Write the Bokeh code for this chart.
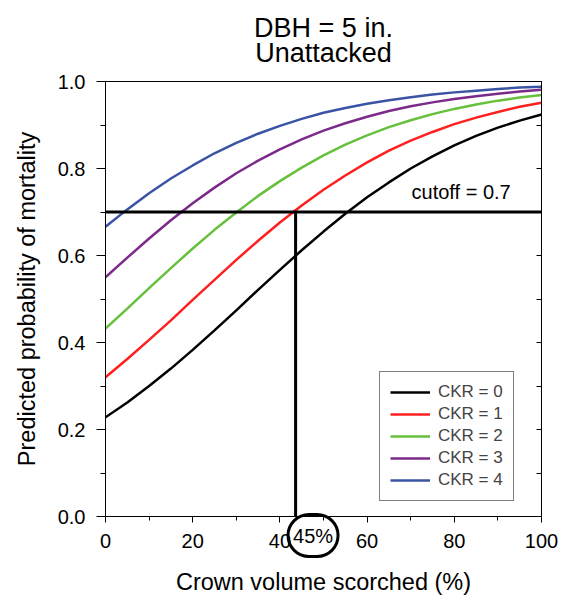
from bokeh.plotting import figure
from bokeh.embed import file_html
from bokeh.resources import INLINE
from bokeh.models import (Range1d, LinearAxis, SingleIntervalTicker, Span, Label,
                          Legend, LegendItem, PrintfTickFormatter)

# ---- data ----
crown_scorch = [0, 5, 10, 15, 20, 25, 30, 35, 40, 45, 50,
                55, 60, 65, 70, 75, 80, 85, 90, 95, 100]
ckr0 = [0.228, 0.262, 0.300, 0.340, 0.383, 0.428, 0.474, 0.521, 0.567, 0.612, 0.655,
        0.696, 0.734, 0.768, 0.800, 0.828, 0.853, 0.875, 0.894, 0.910, 0.924]
ckr1 = [0.320, 0.362, 0.406, 0.451, 0.498, 0.544, 0.590, 0.634, 0.676, 0.715, 0.751,
        0.784, 0.814, 0.841, 0.864, 0.884, 0.902, 0.917, 0.930, 0.942, 0.951]
ckr2 = [0.432, 0.478, 0.525, 0.571, 0.616, 0.659, 0.699, 0.737, 0.771, 0.802, 0.830,
        0.855, 0.876, 0.895, 0.911, 0.925, 0.937, 0.947, 0.956, 0.963, 0.969]
ckr3 = [0.550, 0.595, 0.639, 0.681, 0.720, 0.756, 0.789, 0.818, 0.844, 0.867, 0.887,
        0.904, 0.919, 0.932, 0.943, 0.952, 0.960, 0.966, 0.972, 0.977, 0.981]
ckr4 = [0.666, 0.706, 0.743, 0.777, 0.807, 0.835, 0.859, 0.880, 0.898, 0.914, 0.928,
        0.939, 0.949, 0.957, 0.964, 0.970, 0.975, 0.979, 0.983, 0.986, 0.988]
series_names = ["CKR = 0", "CKR = 1", "CKR = 2", "CKR = 3", "CKR = 4"]
series_values = [ckr0, ckr1, ckr2, ckr3, ckr4]
series_colors = ["#000000", "#ff1f1f", "#66c03c", "#7b2a8a", "#3b53a4"]

title_text = "DBH = 5 in.\nUnattacked"
x_title = "Crown volume scorched (%)"
y_title = "Predicted probability of mortality"
cutoff = 0.7
cutoff_text = "cutoff = 0.7"
cutoff_x = 43.6          # where the CKR = 1 curve crosses the cutoff
cutoff_x_text = "45%"

FONT = "Liberation Sans"

p = figure(width=564, height=600, output_backend="svg", toolbar_location=None,
           x_range=Range1d(0, 100), y_range=Range1d(0, 1),
           min_border_left=105, min_border_right=23, min_border_top=81, min_border_bottom=84)
p.background_fill_color = "white"
p.border_fill_color = "white"
p.outline_line_color = "black"
p.outline_line_width = 1
p.outline_line_alpha = 1
p.xgrid.visible = False
p.ygrid.visible = False

# Texts outside the frame are Labels held in side panels (so they are not clipped);
# they are positioned by data coordinates + pixel offsets.
x_title_lbl = Label(x=50, y=0, y_offset=-65, text=x_title, text_font=FONT,
                    text_font_size="23.5px", text_color="black", anchor="center")
p.add_layout(x_title_lbl, "above")

title_lbl = Label(x=50, y=1, y_offset=41, text=title_text, text_font=FONT,
                  text_font_size="27px", text_color="black", text_line_height=0.82,
                  anchor="center", text_align="center")
p.add_layout(title_lbl, "above")

# bottom axis (tick labels only)
xa = p.xaxis[0]
xa.ticker = SingleIntervalTicker(interval=20, num_minor_ticks=2)
xa.major_tick_out = 6
xa.major_tick_in = 0
xa.minor_tick_out = 4
xa.minor_tick_in = 0

# left axis
ya = p.yaxis[0]
ya.ticker = SingleIntervalTicker(interval=0.2, num_minor_ticks=2)
ya.formatter = PrintfTickFormatter(format="%.1f")
ya.axis_label = y_title
ya.major_tick_out = 9
ya.major_tick_in = 0
ya.minor_tick_out = 5
ya.minor_tick_in = 0

for ax in [xa, ya]:
    ax.axis_line_color = "black"
    ax.major_tick_line_color = "black"
    ax.minor_tick_line_color = "black"
    ax.major_label_text_font = FONT
    ax.major_label_text_font_size = "20px"
    ax.major_label_text_color = "black"
    ax.axis_label_text_font = FONT
    ax.axis_label_text_font_size = "23.5px"
    ax.axis_label_text_font_style = "normal"
    ax.axis_label_text_color = "black"
xa.major_label_standoff = 11
ya.major_label_standoff = 11
ya.axis_label_standoff = 15

# circled value just below the axis
circ = Label(x=47.6, y=0, y_offset=-19, text=cutoff_x_text, text_font=FONT,
             text_font_size="20px", text_color="black", anchor="center",
             border_line_color="black", border_line_width=3, border_radius=23,
             padding=dict(left=5, right=5, top=10, bottom=10))
p.add_layout(circ, "below")

# right axis: inward ticks only
ra = LinearAxis(ticker=SingleIntervalTicker(interval=0.1, num_minor_ticks=0))
ra.major_tick_in = 5
ra.major_tick_out = 0
ra.minor_tick_in = 0
ra.minor_tick_out = 0
ra.major_label_text_font_size = "0px"
ra.major_label_standoff = 0
ra.axis_line_color = "black"
ra.major_tick_line_color = "black"
p.add_layout(ra, "right")

# curves
items = []
for name, vals, col in zip(series_names, series_values, series_colors):
    r = p.line(crown_scorch, vals, line_color=col, line_width=2.5)
    items.append(LegendItem(label=name, renderers=[r]))

# cutoff lines
p.add_layout(Span(location=cutoff, dimension="width", line_color="black", line_width=3))
p.line([cutoff_x, cutoff_x], [0, cutoff], line_color="black", line_width=3)

p.add_layout(Label(x=70.2, y=cutoff, y_offset=9, text=cutoff_text, text_font=FONT,
                   text_font_size="20px", text_color="black"))

legend = Legend(items=items, location=(274, 15), border_line_color="black",
                border_line_width=1, background_fill_color="white", background_fill_alpha=1,
                label_text_font=FONT, label_text_font_size="17px",
                glyph_width=40, glyph_height=20, label_height=20, spacing=2,
                padding=10, margin=0, label_standoff=8)
p.add_layout(legend)

open("out.html", "w").write(file_html(p, INLINE))
